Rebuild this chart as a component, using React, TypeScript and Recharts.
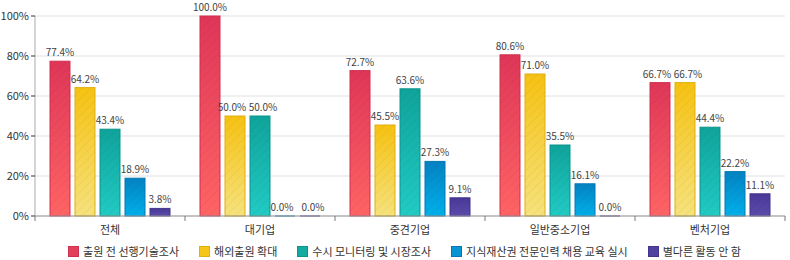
import React from 'react';
import { BarChart, Bar, XAxis, YAxis, CartesianGrid, Legend, LabelList } from 'recharts';

const categories = ['전체', '대기업', '중견기업', '일반중소기업', '벤처기업'];
const seriesNames = [
  '출원 전 선행기술조사',
  '해외출원 확대',
  '수시 모니터링 및 시장조사',
  '지식재산권 전문인력 채용 교육 실시',
  '별다른 활동 안 함',
];
const s1 = [77.4, 100.0, 72.7, 80.6, 66.7];
const s2 = [64.2, 50.0, 45.5, 71.0, 66.7];
const s3 = [43.4, 50.0, 63.6, 35.5, 44.4];
const s4 = [18.9, 0.0, 27.3, 16.1, 22.2];
const s5 = [3.8, 0.0, 9.1, 0.0, 11.1];
const yTicks = [0, 20, 40, 60, 80, 100];

const seriesValues = [s1, s2, s3, s4, s5];
const keys = ['a', 'b', 'c', 'd', 'e'];
const gradients = [
  { top: '#df3658', bottom: '#ff6464', stroke: '#d03050', legend: '#e0405a' },
  { top: '#f6c212', bottom: '#f6e27c', stroke: '#e0b010', legend: '#f5c518' },
  { top: '#0fa39b', bottom: '#21cbc4', stroke: '#0b958d', legend: '#13aaa2' },
  { top: '#0482c2', bottom: '#00b0ea', stroke: '#0478b4', legend: '#0795d4' },
  { top: '#4a3898', bottom: '#5c4caa', stroke: '#44348c', legend: '#5242a0' },
];

const data = categories.map((c, i) => {
  const row: any = { name: c };
  keys.forEach((k, j) => {
    row[k] = seriesValues[j][i];
  });
  return row;
});

const font = "'Noto Sans CJK KR', 'Noto Sans', sans-serif";

const HatchBar = (props: any) => {
  const { x, y, width, height, idx } = props;
  const g = gradients[idx];
  if (height <= 0 || width <= 0) {
    return <rect x={x} y={y - 0.5} width={width} height={1} fill={g.stroke} />;
  }
  return (
    <g>
      <rect x={x} y={y} width={width} height={height} fill={`url(#grad${idx})`} stroke={g.stroke} strokeWidth={1} />
      <rect x={x} y={y} width={width} height={height} fill="url(#hatch)" />
    </g>
  );
};

// simple overlap avoidance between neighbouring value labels
const makeLabel = (si: number) => (props: any) => {
  const { x, y, width, index, value } = props;
  const vals = seriesValues.map((s) => s[index]);
  const close = (a: number, b: number) => Math.abs(a - b) < 6;
  let dx = 0;
  if (si > 0 && close(vals[si - 1], vals[si])) dx += 3;
  if (si < vals.length - 1 && close(vals[si + 1], vals[si])) dx -= 3;
  return (
    <text
      x={x + width / 2 + dx}
      y={y - 5}
      textAnchor="middle"
      fontSize={10}
      fill="#444"
      fontFamily={font}
    >
      {`${Number(value).toFixed(1)}%`}
    </text>
  );
};

const XTick = (props: any) => {
  const { x, y, payload, index } = props;
  const half = payload && payload.offset ? payload.offset : 75;
  return (
    <g>
      <line x1={x - half} x2={x - half} y1={y - 8} y2={y - 3} stroke="#777" />
      {index === categories.length - 1 && (
        <line x1={x + half} x2={x + half} y1={y - 8} y2={y - 3} stroke="#777" />
      )}
      <text x={x} y={y + 10} textAnchor="middle" fontSize={11} fill="#333" fontFamily={font}>
        {payload.value}
      </text>
    </g>
  );
};

const LegendContent = () => (
  <div
    style={{
      display: 'flex',
      justifyContent: 'center',
      alignItems: 'center',
      fontFamily: font,
      fontSize: 11,
      color: '#333',
      lineHeight: '18px',
      paddingLeft: 24,
    }}
  >
    {seriesNames.map((n, i) => (
      <div key={n} style={{ display: 'flex', alignItems: 'center', marginRight: i < seriesNames.length - 1 ? 20 : 0 }}>
        <span
          style={{
            display: 'inline-block',
            width: 9,
            height: 9,
            background: gradients[i].legend,
            border: `1px solid ${gradients[i].stroke}`,
            marginRight: 4,
          }}
        />
        <span>{n}</span>
      </div>
    ))}
  </div>
);

export default function App() {
  return (
    <div style={{ position: 'absolute', left: 0, top: 0, width: 790, height: 260 }}>
      <BarChart
        width={790}
        height={260}
        data={data}
        margin={{ top: 16, right: 5, left: 0, bottom: 0 }}
        barCategoryGap={15}
        barGap={5}
      >
        <defs>
          {gradients.map((g, i) => (
            <linearGradient key={i} id={`grad${i}`} x1="0" y1="0" x2="0" y2="1">
              <stop offset="0%" stopColor={g.top} />
              <stop offset="100%" stopColor={g.bottom} />
            </linearGradient>
          ))}
          <pattern id="hatch" width="6" height="6" patternUnits="userSpaceOnUse" patternTransform="rotate(45)">
            <line x1="0" y1="0" x2="0" y2="6" stroke="#000" strokeOpacity={0.04} strokeWidth={2} />
          </pattern>
        </defs>
        <CartesianGrid vertical={false} stroke="#e0e0e0" />
        <XAxis
          dataKey="name"
          height={26}
          stroke="#999"
          tickLine={false}
          tick={<XTick />}
          interval={0}
        />
        <YAxis
          width={35}
          domain={[0, 100]}
          ticks={yTicks}
          tickFormatter={(v: number) => `${v}%`}
          stroke="#aaa"
          tickLine={{ stroke: '#333' }}
          tickSize={4}
          tick={{ fontSize: 11, fill: '#333', fontFamily: font }}
        />
        <Legend verticalAlign="bottom" height={18} content={<LegendContent />} />
        {keys.map((k, i) => (
          <Bar
            key={k}
            dataKey={k}
            name={seriesNames[i]}
            fill={gradients[i].legend}
            isAnimationActive={false}
            shape={(p: any) => <HatchBar {...p} idx={i} />}
          >
            <LabelList dataKey={k} content={makeLabel(i)} />
          </Bar>
        ))}
      </BarChart>
    </div>
  );
}
